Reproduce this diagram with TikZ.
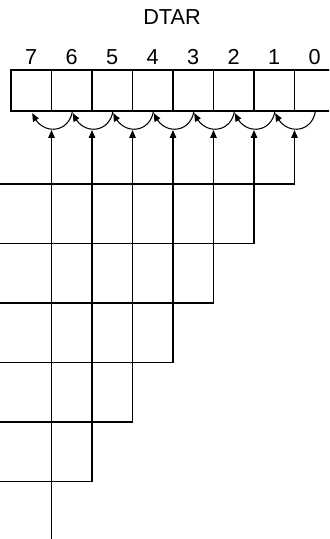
\documentclass[tikz,border=0pt]{standalone}
\usepackage{fontspec}
\setmainfont{Liberation Sans}
\usetikzlibrary{positioning, arrows.meta, calc, bending}

\begin{document}
\begin{tikzpicture}[
    x=0.03cm, y=-0.03cm,
    every node/.style={font=\fontsize{18.5}{21}\selectfont},
    cell/.style={draw, line width=0.9pt, minimum width=1.215cm, minimum height=1.23cm, inner sep=0pt, outer sep=0pt},
    bitno/.style={anchor=base, inner sep=0pt},
    feed/.style={line width=0.9pt, -{Triangle[length=6.8pt, width=5.6pt]}},
    swap/.style={line width=0.9pt, -{Triangle[length=6.8pt, width=5.6pt, bend]}},
]
\useasboundingbox (0,0) rectangle (329,539);
\clip (0,0) rectangle (329,539);

% ── Register cells and bit numbers ──────────────────────────────────────────
\foreach \b in {0,...,7} {
    \node[cell] (c\b) at ({31.25+(7-\b)*40.5}, 90.5) {};
    \node[bitno] (n\b) at ($(c\b.north)+(0,-5)$) {\b};
}
\node[bitno] (dtar) at ($(c3.north west)+(-1,-45)$) {DTAR};

% ── Inputs: one vertical feed per cell boundary ─────────────────────────────
\foreach \k in {1,...,7} {
    \coordinate (tip\k) at ($(c\k.south east)+(0,19)$);
    \coordinate (right\k) at ($(c\k.south east)+(21,0)$);
    \coordinate (left\k) at ($(c\k.south east)+(-19,2)$);
    \draw[swap] (right\k) .. controls ($(right\k)+(-4,24)$) and ($(left\k)+(7,22)$) .. (left\k);
}
\foreach \k in {1,...,6} {
    \coordinate (in\k) at (0, {184+(\k-1)*59.5});
    \draw[feed] (in\k) -| (tip\k);
}
\coordinate (in7) at (c7.south east |- 0,539);
\draw[feed] (in7) -- (tip7);

\end{tikzpicture}
\end{document}
